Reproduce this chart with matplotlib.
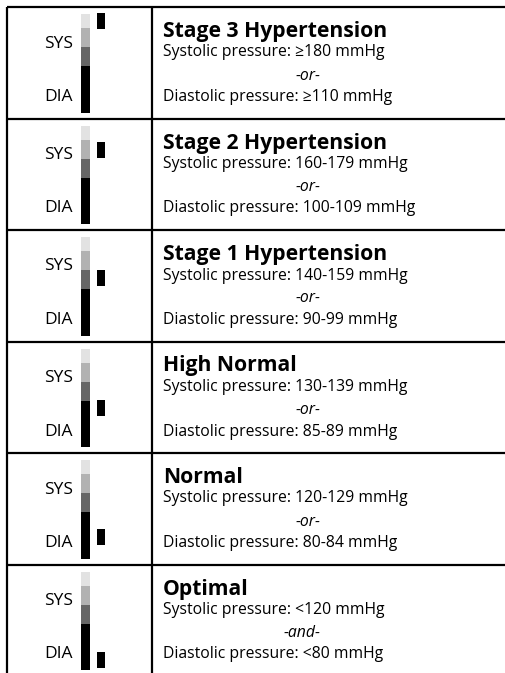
#!/usr/bin/env python3
"""
Blood pressure classification table with small level bars.
"""

import matplotlib
matplotlib.use("Agg")
import matplotlib.pyplot as plt

plt.rcParams['font.family'] = ['Open Sans', 'DejaVu Sans']

# Table content, top row first
stages = ["Stage 3 Hypertension", "Stage 2 Hypertension", "Stage 1 Hypertension",
          "High Normal", "Normal", "Optimal"]
systolic = ["\u2265180 mmHg", "160-179 mmHg", "140-159 mmHg",
            "130-139 mmHg", "120-129 mmHg", "<120 mmHg"]
diastolic = ["\u2265110 mmHg", "100-109 mmHg", "90-99 mmHg",
             "85-89 mmHg", "80-84 mmHg", "<80 mmHg"]
joiners = ["or", "or", "or", "or", "or", "and"]

# Reference bar, bottom segment first (heights in bar units)
seg_heights = [46.5, 19, 19, 14]
seg_colors = ['#000000', '#666666', '#b2b2b2', '#e2e2e2']

# Level marker centre for each row, measured up from the bar bottom
marker_level = [92, 74, 58, 39, 22, 10]
MARKER_H = 16

W, H = 505, 673
TOP = 7          # table top, px from top
ROW_H = 111.5
LEFT = 7
DIV = 152


def main():
    fig = plt.figure(figsize=(W / 100, H / 100), dpi=100)
    ax = fig.add_axes([0, 0, 1, 1])
    ax.set_xlim(0, W)
    ax.set_ylim(0, H)
    ax.axis('off')

    lw = 1.6
    for i in range(len(stages)):
        y = H - TOP - i * ROW_H
        ax.plot([LEFT, W], [y, y], color='black', lw=lw, solid_capstyle='butt')
    ax.plot([LEFT, LEFT], [H - TOP, 0], color='black', lw=lw, solid_capstyle='butt')
    ax.plot([DIV, DIV], [H - TOP, 0], color='black', lw=lw, solid_capstyle='butt')

    for i, stage in enumerate(stages):
        top = H - TOP - i * ROW_H
        bar_bottom = top - 105.5

        # stacked reference bar
        b = bar_bottom
        for h, c in zip(seg_heights, seg_colors):
            ax.bar(85.5, h, width=9, bottom=b, color=c, linewidth=0)
            b += h

        # level marker
        ax.bar(101, MARKER_H, width=8, bottom=bar_bottom + marker_level[i] - MARKER_H / 2,
               color='black', linewidth=0)

        ax.text(73, top - 40.5, "SYS", ha='right', va='baseline', fontsize=12.5)
        ax.text(73, top - 94, "DIA", ha='right', va='baseline', fontsize=12.5)

        ax.text(163, top - 30, stage, ha='left', va='baseline',
                fontsize=15.2, fontweight='bold')
        ax.text(163, top - 49.5, "Systolic pressure: " + systolic[i],
                ha='left', va='baseline', fontsize=11.3)
        ax.text(320, top - 72.5, "-" + joiners[i] + "-", ha='right', va='baseline',
                fontsize=11.3, style='italic')
        ax.text(163, top - 94, "Diastolic pressure: " + diastolic[i],
                ha='left', va='baseline', fontsize=11.3)

    fig.savefig('out.png', dpi=100)


if __name__ == '__main__':
    main()
